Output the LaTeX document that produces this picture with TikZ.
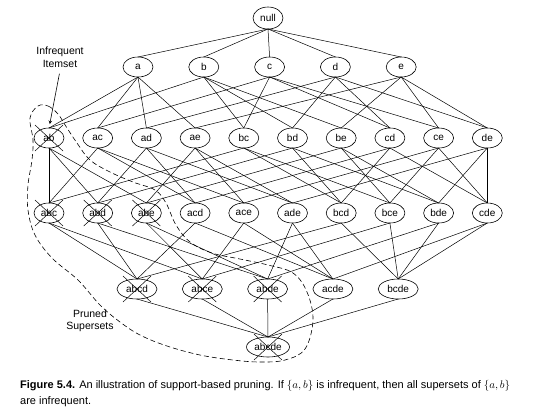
\documentclass[tikz,border=0pt]{standalone}
\usepackage{fontspec}
\setmainfont{Liberation Sans}
\usetikzlibrary{arrows}
\usetikzlibrary{positioning}
\usetikzlibrary{shapes.geometric}

\begin{document}
\begin{tikzpicture}[
x=1pt, y=-1pt,
set/.style={ellipse, draw=black, fill=none, line width=0.6pt, inner sep=0pt, outer sep=0pt, minimum width=30pt, minimum height=20pt, font=\fontsize{10}{12}\selectfont},
bigset/.style={set, minimum width=40pt},
topset/.style={set, minimum width=43pt},
link/.style={line width=0.5pt},
prune/.style={line width=0.5pt},
note/.style={align=center, font=\fontsize{10.5}{12.5}\selectfont},
]
\useasboundingbox (0,0) rectangle (534,416);
% lattice
\node[set, minimum height=22pt](null) at (268,18){null};
\node[set](a) at (138,67){a};
\node[set](b)[right=35.8pt of a]{b};
\node[set](c)[right=35.8pt of b]{c};
\node[set](d)[right=35.8pt of c]{d};
\node[set](e)[right=35.8pt of d]{e};
\node[set](ab) at (49,138){ab};
\node[set](ac)[right=18.7pt of ab]{ac};
\node[set](ad)[right=18.7pt of ac]{ad};
\node[set](ae)[right=18.7pt of ad]{ae};
\node[set](bc)[right=18.7pt of ae]{bc};
\node[set](bd)[right=18.7pt of bc]{bd};
\node[set](be)[right=18.7pt of bd]{be};
\node[set](cd)[right=18.7pt of be]{cd};
\node[set](ce)[right=18.7pt of cd]{ce};
\node[set](de)[right=18.7pt of ce]{de};
\node[set](abc) at (49,213){abc};
\node[set](abd)[right=18.7pt of abc]{abd};
\node[set](abe)[right=18.7pt of abd]{abe};
\node[set](acd)[right=18.7pt of abe]{acd};
\node[set](ace)[right=18.7pt of acd]{ace};
\node[set](ade)[right=18.7pt of ace]{ade};
\node[set](bcd)[right=18.7pt of ade]{bcd};
\node[set](bce)[right=18.7pt of bcd]{bce};
\node[set](bde)[right=18.7pt of bce]{bde};
\node[set](cde)[right=18.7pt of bde]{cde};
\node[bigset](abcd) at (137,289){abcd};
\node[bigset](abce)[right=25.3pt of abcd]{abce};
\node[bigset](abde)[right=25.3pt of abce]{abde};
\node[bigset](acde)[right=25.3pt of abde]{acde};
\node[bigset](bcde)[right=25.3pt of acde]{bcde};
\node[topset](abcde) at (268,347){abcde};
% edges
\foreach \s in {a,b,c,d,e} \draw[link] (null.south) -- (\s.north);
\foreach \s/\l in {a/{ab,ac,ad,ae}, b/{ab,bc,bd,be}, c/{ac,bc,cd,ce}, d/{ad,bd,cd,de}, e/{ae,be,ce,de},
  ab/{abc,abd,abe}, ac/{abc,acd,ace}, ad/{abd,acd,ade}, ae/{abe,ace,ade}, bc/{abc,bcd,bce},
  bd/{abd,bcd,bde}, be/{abe,bce,bde}, cd/{acd,bcd,cde}, ce/{ace,bce,cde}, de/{ade,bde,cde},
  abc/{abcd,abce}, abd/{abcd,abde}, abe/{abce,abde}, acd/{abcd,acde}, ace/{abce,acde},
  ade/{abde,acde}, bcd/{abcd,bcde}, bce/{abce,bcde}, bde/{abde,bcde}, cde/{acde,bcde},
  abcd/{abcde}, abce/{abcde}, abde/{abcde}, acde/{abcde}, bcde/{abcde}}
  \foreach \t in \l \draw[link] (\s.south) -- (\t.north);
% crossed out itemsets
\foreach \n in {ab,abc,abd,abe,abcd,abce,abde,abcde}
  \draw[prune] ([shift={(-14pt,-13pt)}]\n.center) -- ([shift={(14pt,13pt)}]\n.center)
               ([shift={(-14pt,13pt)}]\n.center) -- ([shift={(14pt,-13pt)}]\n.center);
% pruned region
\draw[line width=0.6pt, dash pattern=on 5pt off 3pt] plot[smooth cycle, tension=0.6] coordinates {
  (38,106) (48,106) (58,114) (67,128) (77,143) (90,160) (110,172) (133,182) (155,190)
  (166,203) (176,225) (190,242) (212,253) (240,259) (268,265) (293,273) (307,292)
  (313,320) (305,349) (285,360) (260,362) (233,360) (200,355) (167,346) (140,335)
  (120,322) (100,305) (78,280) (52,258) (35,235) (28,210) (28,185) (32,160) (33,140) (30,118)};
% notes
\node[note](infreq) at (60,57){Infrequent\\Itemset};
\draw[-stealth, line width=0.6pt, shorten <=3pt, shorten >=4pt] (infreq.south) -- (ab.north);
\node[note](pruned) at (90,321){Pruned\\Supersets};
% caption
\node[anchor=base west, inner sep=0pt, font=\fontsize{11}{13}\selectfont](cap1) at (20,388)
  {\textbf{Figure 5.4.} An illustration of support-based pruning. If $\{a,b\}$ is infrequent, then all supersets of $\{a,b\}$};
\node[anchor=base west, inner sep=0pt, font=\fontsize{11}{13}\selectfont](cap2) at (20,404){are infrequent.};
\end{tikzpicture}
\end{document}
